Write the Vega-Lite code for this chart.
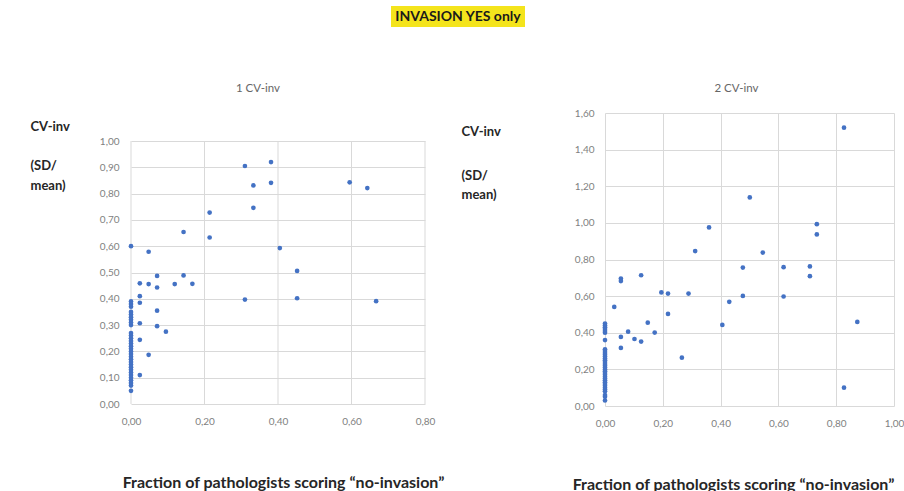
{
  "$schema": "https://vega.github.io/schema/vega-lite/v6.json",
  "padding": {"left": 30, "top": 6, "right": 5, "bottom": 5},
  "background": "white",
  "config": {
    "font": "Lato",
    "axis": {
      "domain": false,
      "ticks": false,
      "gridColor": "#d9d9d9",
      "gridWidth": 1,
      "labelColor": "#7f7f7f",
      "labelFontSize": 10,
      "labelFlush": false,
      "titleColor": "#262626",
      "titleFontSize": 13,
      "titleFontWeight": "bold"
    },
    "view": {"stroke": null},
    "title": {"fontSize": 11.5, "fontWeight": "normal", "color": "#666666", "frame": "group"}
  },
  "datasets": {
    "cv1": [
      {"frac": 0, "cv": 0.05}, {"frac": 0, "cv": 0.07}, {"frac": 0, "cv": 0.08}, {"frac": 0, "cv": 0.09},
      {"frac": 0, "cv": 0.10}, {"frac": 0, "cv": 0.11}, {"frac": 0, "cv": 0.12}, {"frac": 0, "cv": 0.13},
      {"frac": 0, "cv": 0.14}, {"frac": 0, "cv": 0.15}, {"frac": 0, "cv": 0.16}, {"frac": 0, "cv": 0.17},
      {"frac": 0, "cv": 0.18}, {"frac": 0, "cv": 0.19}, {"frac": 0, "cv": 0.20}, {"frac": 0, "cv": 0.21},
      {"frac": 0, "cv": 0.22}, {"frac": 0, "cv": 0.23}, {"frac": 0, "cv": 0.24}, {"frac": 0, "cv": 0.25},
      {"frac": 0, "cv": 0.26}, {"frac": 0, "cv": 0.27}, {"frac": 0, "cv": 0.30}, {"frac": 0, "cv": 0.31},
      {"frac": 0, "cv": 0.32}, {"frac": 0, "cv": 0.33}, {"frac": 0, "cv": 0.34}, {"frac": 0, "cv": 0.35},
      {"frac": 0, "cv": 0.37}, {"frac": 0, "cv": 0.38}, {"frac": 0, "cv": 0.39}, {"frac": 0, "cv": 0.60},
      {"frac": 0.310, "cv": 0.905}, {"frac": 0.381, "cv": 0.920}, {"frac": 0.333, "cv": 0.831},
      {"frac": 0.381, "cv": 0.841}, {"frac": 0.595, "cv": 0.843}, {"frac": 0.643, "cv": 0.821},
      {"frac": 0.333, "cv": 0.746}, {"frac": 0.214, "cv": 0.728}, {"frac": 0.143, "cv": 0.654},
      {"frac": 0.214, "cv": 0.633}, {"frac": 0.405, "cv": 0.593}, {"frac": 0.048, "cv": 0.579},
      {"frac": 0.452, "cv": 0.506}, {"frac": 0.071, "cv": 0.487}, {"frac": 0.143, "cv": 0.489},
      {"frac": 0.024, "cv": 0.459}, {"frac": 0.048, "cv": 0.456}, {"frac": 0.071, "cv": 0.443},
      {"frac": 0.119, "cv": 0.456}, {"frac": 0.167, "cv": 0.457}, {"frac": 0.024, "cv": 0.410},
      {"frac": 0.024, "cv": 0.385}, {"frac": 0.310, "cv": 0.397}, {"frac": 0.452, "cv": 0.402},
      {"frac": 0.667, "cv": 0.391}, {"frac": 0.071, "cv": 0.355}, {"frac": 0.024, "cv": 0.307},
      {"frac": 0.071, "cv": 0.296}, {"frac": 0.095, "cv": 0.275}, {"frac": 0.024, "cv": 0.244},
      {"frac": 0.048, "cv": 0.187}, {"frac": 0.024, "cv": 0.110}
    ],
    "cv2": [
      {"frac": 0, "cv": 0.03}, {"frac": 0, "cv": 0.05}, {"frac": 0, "cv": 0.06}, {"frac": 0, "cv": 0.08},
      {"frac": 0, "cv": 0.09}, {"frac": 0, "cv": 0.10}, {"frac": 0, "cv": 0.11}, {"frac": 0, "cv": 0.12},
      {"frac": 0, "cv": 0.13}, {"frac": 0, "cv": 0.14}, {"frac": 0, "cv": 0.15}, {"frac": 0, "cv": 0.16},
      {"frac": 0, "cv": 0.17}, {"frac": 0, "cv": 0.18}, {"frac": 0, "cv": 0.19}, {"frac": 0, "cv": 0.20},
      {"frac": 0, "cv": 0.21}, {"frac": 0, "cv": 0.22}, {"frac": 0, "cv": 0.23}, {"frac": 0, "cv": 0.24},
      {"frac": 0, "cv": 0.25}, {"frac": 0, "cv": 0.26}, {"frac": 0, "cv": 0.27}, {"frac": 0, "cv": 0.28},
      {"frac": 0, "cv": 0.29}, {"frac": 0, "cv": 0.30}, {"frac": 0, "cv": 0.31}, {"frac": 0, "cv": 0.36},
      {"frac": 0, "cv": 0.40}, {"frac": 0, "cv": 0.41}, {"frac": 0, "cv": 0.42}, {"frac": 0, "cv": 0.43},
      {"frac": 0, "cv": 0.44}, {"frac": 0, "cv": 0.45},
      {"frac": 0.827, "cv": 1.520}, {"frac": 0.501, "cv": 1.139}, {"frac": 0.733, "cv": 0.993},
      {"frac": 0.733, "cv": 0.937}, {"frac": 0.360, "cv": 0.975}, {"frac": 0.312, "cv": 0.846},
      {"frac": 0.546, "cv": 0.838}, {"frac": 0.477, "cv": 0.756}, {"frac": 0.618, "cv": 0.758},
      {"frac": 0.709, "cv": 0.762}, {"frac": 0.709, "cv": 0.709}, {"frac": 0.125, "cv": 0.714},
      {"frac": 0.055, "cv": 0.696}, {"frac": 0.055, "cv": 0.682}, {"frac": 0.195, "cv": 0.620},
      {"frac": 0.218, "cv": 0.614}, {"frac": 0.289, "cv": 0.614}, {"frac": 0.477, "cv": 0.601},
      {"frac": 0.618, "cv": 0.598}, {"frac": 0.430, "cv": 0.569}, {"frac": 0.032, "cv": 0.541},
      {"frac": 0.218, "cv": 0.503}, {"frac": 0.148, "cv": 0.455}, {"frac": 0.873, "cv": 0.459},
      {"frac": 0.406, "cv": 0.443}, {"frac": 0.080, "cv": 0.406}, {"frac": 0.172, "cv": 0.401},
      {"frac": 0.055, "cv": 0.377}, {"frac": 0.102, "cv": 0.366}, {"frac": 0.125, "cv": 0.352},
      {"frac": 0.055, "cv": 0.317}, {"frac": 0.266, "cv": 0.264}, {"frac": 0.827, "cv": 0.100}
    ]
  },
  "spacing": 55,
  "vconcat": [
    {
      "spacing": 0,
      "hconcat": [
        {
          "width": 260,
          "height": 21,
          "data": {"values": []},
          "mark": {"type": "point", "opacity": 0},
          "encoding": {}
        },
        {
          "width": 134,
          "height": 21,
          "view": {"fill": "#f4e41c", "stroke": null},
          "data": {"values": [{"label": "INVASION YES only"}]},
          "mark": {"type": "text", "fontWeight": "bold", "fontSize": 14, "color": "#1a1a1a", "baseline": "middle"},
          "encoding": {"text": {"field": "label"}}
        }
      ]
    },
    {
      "spacing": 17,
      "hconcat": [
        {
          "width": 294,
          "height": 291,
          "title": {"text": "1 CV-inv", "offset": 19, "dx": -20},
          "layer": [
            {
              "data": {"values": [{"g": 0}, {"g": 0.2}, {"g": 0.4}, {"g": 0.6}, {"g": 0.8}]},
              "mark": {"type": "rule", "color": "#d9d9d9", "strokeWidth": 1},
              "encoding": {
                "x": {"field": "g", "type": "quantitative"},
                "y": {"datum": 0, "type": "quantitative", "axis": null},
                "y2": {"datum": 1}
              }
            },
            {
              "data": {"name": "cv1"},
              "mark": {"type": "circle", "size": 22, "color": "#4472c4", "opacity": 1},
              "encoding": {
                "x": {
                  "field": "frac", "type": "quantitative",
                  "scale": {"domain": [0, 0.8], "nice": false, "zero": true},
                  "axis": {
                    "values": [0, 0.2, 0.4, 0.6, 0.8],
                    "grid": false,
                    "labels": true,
                    "labelExpr": "replace(format(datum.value, '.2f'), '.', ',')",
                    "labelPadding": 12,
                    "title": "Fraction of pathologists scoring \u201cno-invasion\u201d",
                    "titleFontSize": 16,
                    "titleX": 152, "titleY": 78, "titleBaseline": "middle"
                  }
                },
                "y": {
                  "field": "cv", "type": "quantitative",
                  "scale": {"domain": [0, 1], "nice": false, "range": [291, 28]},
                  "axis": {
                    "values": [0, 0.1, 0.2, 0.3, 0.4, 0.5, 0.6, 0.7, 0.8, 0.9, 1.0],
                    "grid": true,
                    "labelExpr": "replace(format(datum.value, '.2f'), '.', ',')",
                    "labelPadding": 12,
                    "title": "CV-inv",
                    "titleAngle": 0, "titleAlign": "left", "titleBaseline": "alphabetic",
                    "titleX": -101, "titleY": 17.5
                  }
                }
              }
            },
            {
              "data": {"name": "cv1"},
              "mark": {"type": "circle", "size": 22, "opacity": 0},
              "encoding": {
                "x": {"field": "frac", "type": "quantitative"},
                "y": {
                  "field": "cv", "type": "quantitative",
                  "axis": {
                    "orient": "left", "labels": false, "grid": false,
                    "title": ["(SD/", "mean)"],
                    "titleAngle": 0, "titleAlign": "left", "titleBaseline": "alphabetic",
                    "titleLineHeight": 20,
                    "titleX": -101, "titleY": 56.5
                  }
                }
              }
            }
          ],
          "resolve": {"axis": {"y": "independent"}}
        },
        {
          "width": 289,
          "height": 293,
          "title": {"text": "2 CV-inv", "offset": 14, "dx": -13},
          "data": {"name": "cv2"},
          "encoding": {
            "x": {
              "field": "frac", "type": "quantitative",
              "scale": {"domain": [0, 1], "nice": false},
              "axis": {
                "values": [0, 0.2, 0.4, 0.6, 0.8, 1.0],
                "labelExpr": "replace(format(datum.value, '.2f'), '.', ',')",
                "labelPadding": 12,
                "title": "Fraction of pathologists scoring \u201cno-invasion\u201d",
                "titleFontSize": 16,
                "titleX": 128, "titleY": 78, "titleBaseline": "middle"
              }
            }
          },
          "layer": [
            {
              "mark": {"type": "circle", "size": 22, "color": "#4472c4", "opacity": 1},
              "encoding": {
                "y": {
                  "field": "cv", "type": "quantitative",
                  "scale": {"domain": [0, 1.6], "nice": false},
                  "axis": {
                    "values": [0, 0.2, 0.4, 0.6, 0.8, 1.0, 1.2, 1.4, 1.6],
                    "grid": true,
                    "labelExpr": "replace(format(datum.value, '.2f'), '.', ',')",
                    "labelPadding": 11,
                    "title": "CV-inv",
                    "titleAngle": 0, "titleAlign": "left", "titleBaseline": "alphabetic",
                    "titleX": -144, "titleY": 22.5
                  }
                }
              }
            },
            {
              "mark": {"type": "circle", "size": 22, "opacity": 0},
              "encoding": {
                "y": {
                  "field": "cv", "type": "quantitative",
                  "axis": {
                    "orient": "left", "labels": false, "grid": false,
                    "title": ["(SD/", "mean)"],
                    "titleAngle": 0, "titleAlign": "left", "titleBaseline": "alphabetic",
                    "titleLineHeight": 19,
                    "titleX": -144, "titleY": 66.5
                  }
                }
              }
            }
          ],
          "resolve": {"axis": {"y": "independent"}}
        }
      ]
    }
  ]
}
